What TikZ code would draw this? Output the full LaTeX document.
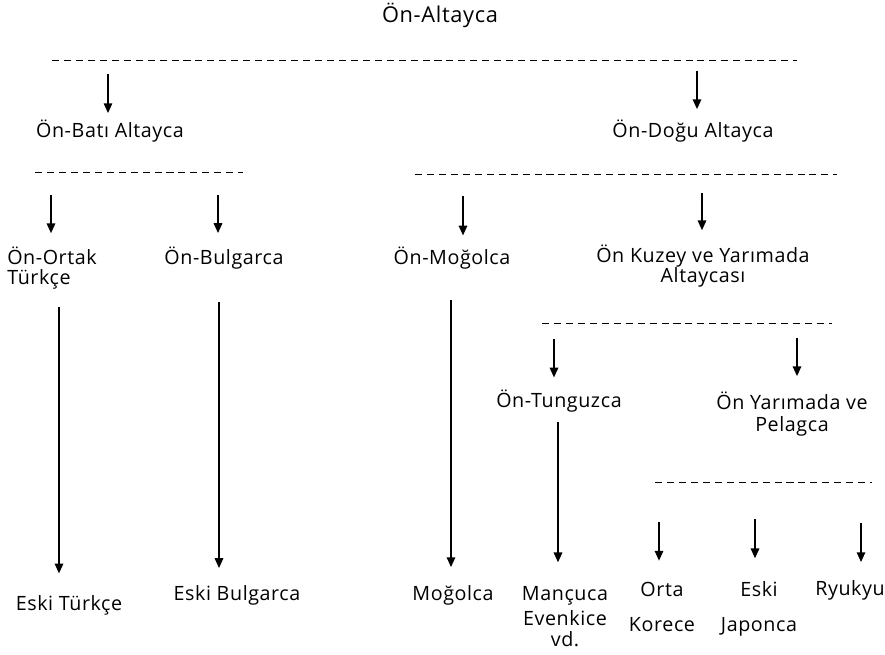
\documentclass[tikz,border=0pt]{standalone}
\usepackage{fontspec}
\setmainfont{Open Sans}[LetterSpace=3]
\usepackage{tikz}
\usetikzlibrary{arrows.meta}

\begin{document}
\begin{tikzpicture}[x=0.025cm,y=-0.025cm,>={Triangle[length=7pt,width=6pt]},
  font=\fontsize{14}{14.3}\selectfont,
  lbl/.style={anchor=base,inner sep=0pt,align=center},
  arr/.style={->,line width=1.2pt,shorten >=#1},
  arr/.default=22pt,
  dl/.style={dash pattern=on 5pt off 3.5pt,line width=0.6pt}]
\useasboundingbox (0,0) rectangle (885,655);
% labels (base = last line)
\node[lbl,font=\fontsize{15.5}{17}\selectfont] (root) at (440,23) {Ön-Altayca};
\node[lbl] (bati) at (110,138) {Ön-Batı Altayca};
\node[lbl] (dogu) at (693,138) {Ön-Doğu Altayca};
\node[lbl,anchor=base west,align=left] (ortak) at (7,285) {Ön-Ortak\\Türkçe};
\node[lbl] (bulg) at (224,265) {Ön-Bulgarca};
\node[lbl] (mogol) at (452,265) {Ön-Moğolca};
\node[lbl] (kuzey) at (703,283) {Ön Kuzey ve Yarımada\\Altaycası};
\node[lbl] (tung) at (559,407) {Ön-Tunguzca};
\node[lbl] (yarim) at (792,431) {Ön Yarımada ve\\[1pt]Pelagca};
\node[lbl] (eturk) at (69,610) {Eski Türkçe};
\node[lbl] (ebulg) at (237,600) {Eski Bulgarca};
\node[lbl] (mog) at (453,600) {Moğolca};
\node[lbl] (manc) at (565,646) {Mançuca\\[4pt]Evenkice\\vd.};
\node[lbl] (kor) at (662,631) {Orta\\[10pt]Korece};
\node[lbl] (jap) at (759,631) {Eski\\[10pt]Japonca};
\node[lbl,anchor=base west] (ryu) at (815,595) {Ryukyu};
% arrow starts
\coordinate (aBati) at (108,74);
\coordinate (aDogu) at (697,71);
\coordinate (aOrtak) at (51,195);
\coordinate (aBulg) at (218,195);
\coordinate (aMogol) at (463,196);
\coordinate (aKuzey) at (702,193);
\coordinate (aTurk) at (59,307);
\coordinate (aEBulg) at (219,302);
\coordinate (aMog) at (451,300);
\coordinate (aTung) at (554,339);
\coordinate (aYarim) at (797,338);
\coordinate (aManc) at (558,422);
\coordinate (aKor) at (659,522);
\coordinate (aJap) at (755,519);
\coordinate (aRyu) at (861,523);
% dashed splits
\draw[dl] (52,60) -- (797,60);
\draw[dl] (35,172) -- (243,172);
\draw[dl] (415,174) -- (837,174);
\draw[dl] (542,323) -- (832,323);
\draw[dl] (655,482) -- (872,482);
% arrows
\draw[arr=17.7pt] (aBati) -- (aBati |- bati.base);
\draw[arr=20.5pt] (aDogu) -- (aDogu |- dogu.base);
\draw[arr=36.8pt] (aOrtak) -- (aOrtak |- ortak.base);
\draw[arr=22.7pt] (aBulg) -- (aBulg |- bulg.base);
\draw[arr=21pt] (aMogol) -- (aMogol |- mogol.base);
\draw[arr=37.5pt] (aKuzey) -- (aKuzey |- kuzey.base);
\draw[arr=26pt] (aTurk) -- (aTurk |- eturk.base);
\draw[arr=22.7pt] (aEBulg) -- (aEBulg |- ebulg.base);
\draw[arr=23.4pt] (aMog) -- (aMog |- mog.base);
\draw[arr=21pt] (aTung) -- (aTung |- tung.base);
\draw[arr=39pt] (aYarim) -- (aYarim |- yarim.base);
\draw[arr=59.5pt] (aManc) -- (aManc |- manc.base);
\draw[arr=50pt] (aKor) -- (aKor |- kor.base);
\draw[arr=51.7pt] (aJap) -- (aJap |- jap.base);
\draw[arr=23.4pt] (aRyu) -- (aRyu |- ryu.base);
\end{tikzpicture}
\end{document}
